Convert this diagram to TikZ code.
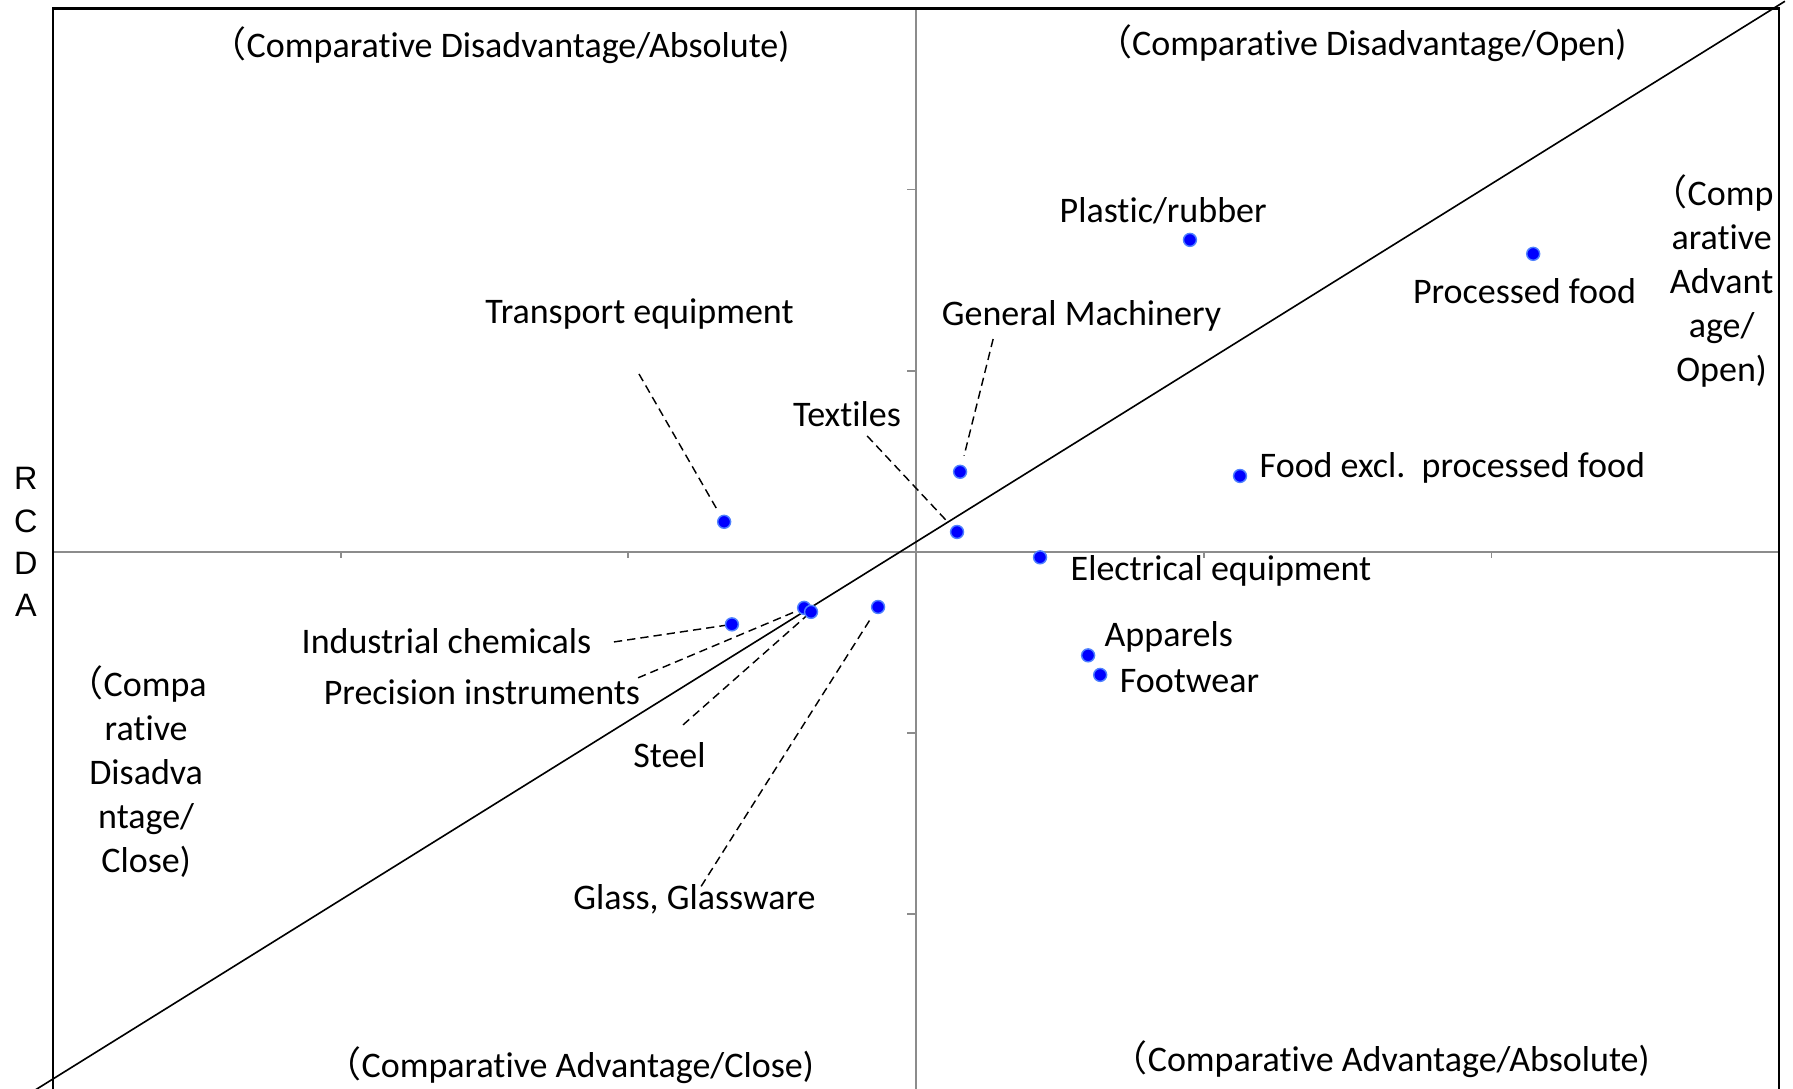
\documentclass[tikz,border=0pt]{standalone}
\usepackage{fontspec}
\setmainfont{Carlito}[Ligatures={NoCommon,NoContextual,NoRare}, Contextuals=NoAlternate]
\newfontfamily\cjk{Noto Sans CJK SC}
\newfontfamily\arialfont{Liberation Sans}
\newcommand{\lpar}{{\cjk （}}
\definecolor{axisgray}{RGB}{140,140,140}
\definecolor{dotrim}{RGB}{80,130,255}

\begin{document}
\begin{tikzpicture}[x=2.809cm, y=1.769cm,
                dot/.style={circle, fill=blue, draw=dotrim, line width=0.4pt, inner sep=0pt, minimum size=3.6pt},
                leader/.style={line width=0.4pt, dash pattern=on 2.3pt off 1.4pt},
                lbl/.style={inner sep=0pt, font=\fontsize{10}{12.2}\selectfont}]
                \clip (-3.184,-2.964) rectangle (3.048,3.046);
                \draw [axisgray, line width=0.6pt] (-3,0) -- (3,0);
                \draw [axisgray, line width=0.6pt] (0,-3) -- (0,3);
                \foreach \t in {-2,-1,1,2} {
                    \draw [axisgray, line width=0.5pt] (\t,0) -- ++(0,-0.035);
                    \draw [axisgray, line width=0.5pt] (0,\t) -- ++(-0.03,0);
                }
                \draw [line width=0.7pt] (-3,-3) -- (-3,3) -- (3,3) -- (3,-3);
                \draw [line width=0.45pt] (-3.1,-3.008) -- (3.02,3.039);

                \node [lbl] (q-tl) at (-1.446,2.798) {\lpar Comparative Disadvantage/Absolute)};
                \node [lbl] (q-tr) at (1.547,2.809) {\lpar Comparative Disadvantage/Open)};
                \node [lbl] (q-bl) at (-1.204,-2.831) {\lpar Comparative Advantage/Close)};
                \node [lbl] (q-br) at (1.615,-2.798) {\lpar Comparative Advantage/Absolute)};
                \node [lbl, align=center] (q-r) at (2.80,1.495) {\hspace*{-0.5em}\lpar Comp\\arative\\Advant\\age/\\Open)};
                \node [lbl, align=center] (q-l) at (-2.676,-1.211) {\hspace*{-0.5em}\lpar Compa\\rative\\Disadva\\ntage/\\Close)};
                \node [inner sep=0pt, align=center, font=\arialfont\fontsize{9}{11.7}\selectfont] (rcda) at (-3.094,0.055) {R\\C\\D\\A};

                \node [dot] (transport) at (-0.667,0.166) {};
                \node [dot] (plastic) at (0.952,1.722) {};
                \node [dot] (procfood) at (2.145,1.645) {};
                \node [dot] (genmach) at (0.153,0.442) {};
                \node [dot] (textiles) at (0.1425,0.110) {};
                \node [dot] (food) at (1.126,0.419) {};
                \node [dot] (electrical) at (0.431,-0.030) {};
                \node [dot] (chemicals) at (-0.640,-0.400) {};
                \node [dot] (precision) at (-0.389,-0.309) {};
                \node [dot] (steel) at (-0.365,-0.331) {};
                \node [dot] (glass) at (-0.132,-0.304) {};
                \node [dot] (apparels) at (0.598,-0.571) {};
                \node [dot] (footwear) at (0.640,-0.679) {};

                \node [lbl] (transport-l) at (-0.961,1.313) {Transport equipment};
                \node [lbl] (plastic-l) at (0.859,1.882) {Plastic/rubber};
                \node [lbl] (procfood-l) at (2.115,1.440) {Processed food};
                \node [lbl] (genmach-l) at (0.575,1.302) {General Machinery};
                \node [lbl] (textiles-l) at (-0.240,0.762) {Textiles};
                \node [lbl, anchor=west] (food-l) at (1.192,0.464) {Food excl.\ \ processed food};
                \node [lbl, anchor=west] (electrical-l) at (0.535,-0.105) {Electrical equipment};
                \node [lbl, anchor=west] (apparels-l) at (0.653,-0.469) {Apparels};
                \node [lbl, anchor=west] (footwear-l) at (0.706,-0.715) {Footwear};
                \node [lbl] (chemicals-l) at (-1.632,-0.491) {Industrial chemicals};
                \node [lbl] (precision-l) at (-1.509,-0.773) {Precision instruments};
                \node [lbl] (steel-l) at (-0.857,-1.120) {Steel};
                \node [lbl] (glass-l) at (-0.770,-1.915) {Glass, Glassware};

                \coordinate (transport-a) at (-0.963,0.982);
                \coordinate (textiles-a) at (-0.170,0.640);
                \coordinate (genmach-a) at (0.268,1.175);
                \coordinate (chemicals-a) at (-1.050,-0.497);
                \coordinate (precision-a) at (-0.966,-0.695);
                \coordinate (steel-a) at (-0.810,-0.955);
                \coordinate (glass-a) at (-0.747,-1.846);
                \draw [leader, shorten >=2.3pt] (transport-a) -- (transport);
                \draw [leader, shorten >=2.5pt] (textiles-a) -- (textiles);
                \draw [leader, shorten >=2.6pt] (genmach-a) -- (genmach);
                \draw [leader] (chemicals-a) -- (chemicals);
                \draw [leader] (precision-a) -- (precision);
                \draw [leader] (steel-a) -- (steel);
                \draw [leader, shorten >=1.9pt] (glass-a) -- (glass);
            \end{tikzpicture}
\end{document}
